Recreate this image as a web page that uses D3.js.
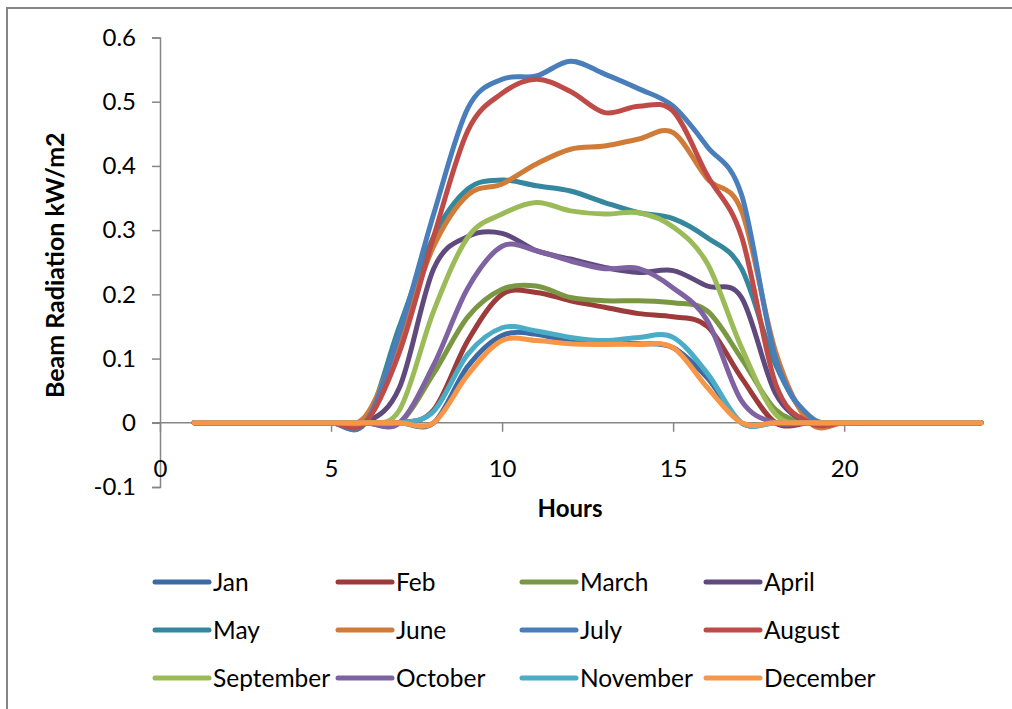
<!DOCTYPE html>
<html>
<head>
<meta charset="utf-8">
<script src="https://cdn.jsdelivr.net/npm/d3@7"></script>
<style>
  html, body { margin: 0; padding: 0; background: #fff; }
  svg { display: block; font-family: Lato, "Open Sans", sans-serif; }
</style>
</head>
<body>
<svg id="chart" width="1012" height="709"></svg>
<script>
// Hourly beam radiation (kW/m2) by month
const hours = [1,2,3,4,5,6,7,8,9,10,11,12,13,14,15,16,17,18,19,20,21,22,23,24];
const months = ["Jan","Feb","March","April","May","June","July","August","September","October","November","December"];
const colors = ["#3d6aa5","#9c3b39","#7a9843","#604a7d","#35879e","#d07b37",
                "#4a7ebb","#be4b48","#9bbb59","#7e62a1","#4bacc6","#f79646"];

const jan  = [0,0,0,0,0,0,0,0,0.088,0.136,0.138,0.126,0.123,0.123,0.117,0.070,0,0,0,0,0,0,0,0];
const feb  = [0,0,0,0,0,0,0,0.020,0.128,0.200,0.203,0.190,0.180,0.170,0.165,0.150,0.070,0,0,0,0,0,0,0];
const mar  = [0,0,0,0,0,0,0,0.077,0.165,0.208,0.213,0.195,0.190,0.190,0.187,0.174,0.100,0.020,0,0,0,0,0,0];
const apr  = [0,0,0,0,0,0,0.055,0.240,0.290,0.295,0.268,0.255,0.242,0.234,0.237,0.213,0.195,0.045,0,0,0,0,0,0];
const may  = [0,0,0,0,0,0,0.150,0.290,0.364,0.378,0.369,0.361,0.343,0.327,0.318,0.288,0.240,0.090,0.005,0,0,0,0,0];
const jun  = [0,0,0,0,0,0.010,0.130,0.275,0.355,0.372,0.403,0.426,0.431,0.442,0.452,0.380,0.330,0.110,0,0,0,0,0,0];
const jul  = [0,0,0,0,0,0,0.140,0.325,0.490,0.535,0.540,0.563,0.543,0.520,0.493,0.430,0.355,0.100,0.010,0,0,0,0,0];
const aug  = [0,0,0,0,0,0,0.110,0.290,0.455,0.513,0.535,0.516,0.483,0.493,0.485,0.385,0.290,0.060,0,0,0,0,0,0];
const sep  = [0,0,0,0,0,0,0.020,0.174,0.289,0.325,0.343,0.330,0.325,0.327,0.305,0.248,0.117,0.013,0,0,0,0,0,0];
const oct  = [0,0,0,0,0,0,0,0.090,0.210,0.275,0.268,0.252,0.240,0.240,0.210,0.159,0.034,0,0,0,0,0,0,0];
const nov  = [0,0,0,0,0,0,0,0.018,0.107,0.148,0.143,0.133,0.128,0.133,0.133,0.077,0,0,0,0,0,0,0,0];
const dec  = [0,0,0,0,0,0,0,0,0.075,0.128,0.128,0.123,0.122,0.122,0.117,0.055,0,0,0,0,0,0,0,0];

const seriesValues = [jan, feb, mar, apr, may, jun, jul, aug, sep, oct, nov, dec];
const xTicks = [0,5,10,15,20];
const yTicks = [-0.1,0,0.1,0.2,0.3,0.4,0.5,0.6];
const yTickLabels = ["-0.1","0","0.1","0.2","0.3","0.4","0.5","0.6"];

const svg = d3.select("#chart");
const axisColor = "#868686";

// outer chart frame
svg.append("rect")
  .attr("x", 7).attr("y", 8).attr("width", 1100).attr("height", 800)
  .attr("fill", "none").attr("stroke", axisColor).attr("stroke-width", 2);

const x = d3.scaleLinear().domain([0, 24]).range([160, 981]);
const y = d3.scaleLinear().domain([-0.1, 0.6]).range([487, 37.5]);

// y axis
const yAxis = svg.append("g").attr("transform", `translate(${x(0)},0)`)
  .call(d3.axisLeft(y).tickValues(yTicks).tickSize(8).tickPadding(16)
        .tickFormat((d, i) => yTickLabels[i]));
yAxis.select(".domain").attr("stroke", axisColor).attr("stroke-width", 1.5);
yAxis.selectAll(".tick line").attr("stroke", axisColor).attr("stroke-width", 1.5);
yAxis.selectAll(".tick text").attr("fill", "#000").style("font-size", "24px").attr("font-family", "Lato");

// x axis drawn through y = 0, labels set lower
const xAxis = svg.append("g").attr("transform", `translate(0,${y(0)})`)
  .call(d3.axisBottom(x).tickValues(xTicks).tickSize(9).tickSizeOuter(0).tickPadding(28));
xAxis.select(".domain").attr("stroke", axisColor).attr("stroke-width", 1.5)
  .attr("d", `M${x(0) - 8},0H${x(24)}`);
xAxis.selectAll(".tick line").attr("stroke", axisColor).attr("stroke-width", 1.5);
xAxis.selectAll(".tick text").attr("fill", "#000").style("font-size", "24px").attr("font-family", "Lato");

// axis titles
svg.append("text")
  .attr("transform", `translate(64,${(y(0.6) + y(-0.1)) / 2 + 3}) rotate(-90)`)
  .attr("text-anchor", "middle")
  .style("font-size", "25px").style("font-weight", "bold")
  .text("Beam Radiation kW/m2");
svg.append("text")
  .attr("x", 570).attr("y", 517)
  .attr("text-anchor", "middle")
  .style("font-size", "24px").style("font-weight", "bold")
  .text("Hours");

// smoothed series lines
const line = d3.line()
  .x((d, i) => x(hours[i]))
  .y(d => y(d))
  .curve(d3.curveCardinal.tension(0));

svg.append("g").selectAll("path")
  .data(seriesValues)
  .join("path")
  .attr("d", d => line(d))
  .attr("fill", "none")
  .attr("stroke", (d, i) => colors[i])
  .attr("stroke-width", 5)
  .attr("stroke-linecap", "round")
  .attr("stroke-linejoin", "round");

// legend: 4 columns x 3 rows
const legend = svg.append("g");
const colX = [155, 338, 522, 706];
const rowY = [582, 630, 678];
months.forEach((m, i) => {
  const cx = colX[i % 4], cy = rowY[Math.floor(i / 4)];
  legend.append("line")
    .attr("x1", cx).attr("x2", cx + 54).attr("y1", cy).attr("y2", cy)
    .attr("stroke", colors[i]).attr("stroke-width", 5).attr("stroke-linecap", "round");
  legend.append("text")
    .attr("x", cx + 58).attr("y", cy + 9)
    .style("font-size", "24.5px")
    .text(m);
});
</script>
</body>
</html>
